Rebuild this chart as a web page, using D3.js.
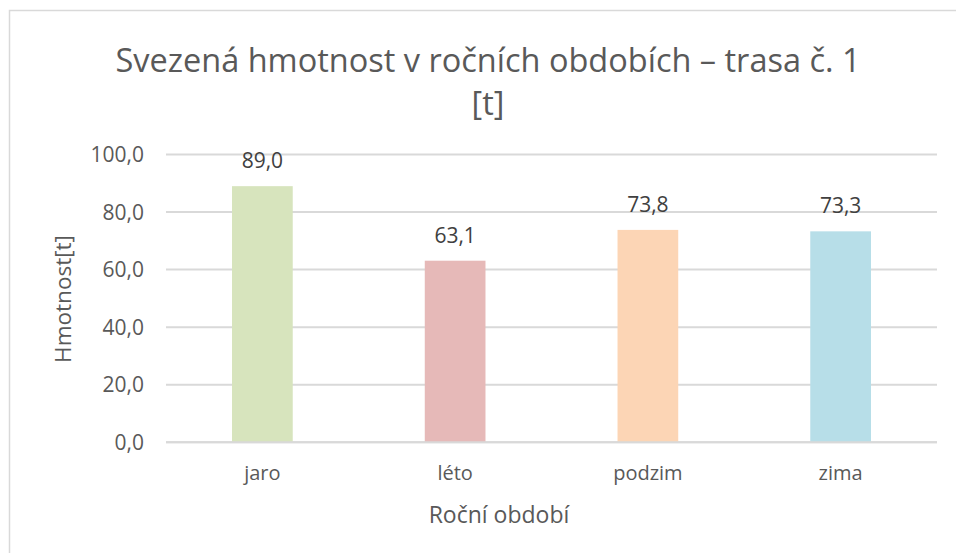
<!DOCTYPE html>
<html>
<head>
<meta charset="utf-8">
<style>
  body { margin: 0; background: #fff; font-family: "Open Sans", sans-serif; }
  .tick-label, .cat-label { fill: #595959; }
  .grid line { stroke: #d9d9d9; stroke-width: 2px; }
</style>
</head>
<body>
<script src="https://d3js.org/d3.v7.min.js"></script>
<script>
// data
var seasons = ["jaro", "léto", "podzim", "zima"];
var mass = [89.0, 63.1, 73.8, 73.3];
var barColors = ["#d7e4bd", "#e6b9b8", "#fcd5b5", "#b7dee8"];
var yTicks = [0, 20, 40, 60, 80, 100];
var titleLines = ["Svezená hmotnost v ročních obdobích – trasa č. 1", "[t]"];
var xTitle = "Roční období";
var yTitle = "Hmotnost[t]";

var width = 956, height = 553;
var plot = {left: 166, right: 937, top: 154.5, bottom: 442.3};

var svg = d3.select("body").append("svg")
    .attr("width", width)
    .attr("height", height);

// chart border (runs off the right and bottom edges)
svg.append("rect")
    .attr("x", 9.5).attr("y", 10.5)
    .attr("width", 970).attr("height", 560)
    .attr("fill", "none")
    .attr("stroke", "#d9d9d9")
    .attr("stroke-width", 1.5);

var x = d3.scaleBand()
    .domain(seasons)
    .range([plot.left, plot.right]);

var y = d3.scaleLinear()
    .domain([0, 100])
    .range([plot.bottom, plot.top]);

var fmt = function(v) { return d3.format(".1f")(v).replace(".", ","); };

// gridlines
svg.append("g").attr("class", "grid")
  .selectAll("line").data(yTicks).join("line")
    .attr("x1", plot.left).attr("x2", plot.right)
    .attr("y1", function(d) { return y(d); })
    .attr("y2", function(d) { return y(d); });

// y tick labels
svg.append("g")
  .selectAll("text").data(yTicks).join("text")
    .attr("class", "tick-label")
    .attr("x", 144)
    .attr("y", function(d) { return y(d); })
    .attr("dy", "0.36em")
    .attr("text-anchor", "end")
    .style("font-size", "21px")
    .text(fmt);

// bars
var barW = x.bandwidth() * 0.315;
svg.append("g")
  .selectAll("rect").data(mass).join("rect")
    .attr("x", function(d, i) { return x(seasons[i]) + (x.bandwidth() - barW) / 2; })
    .attr("y", function(d) { return y(d); })
    .attr("width", barW)
    .attr("height", function(d) { return y(0) - y(d); })
    .attr("fill", function(d, i) { return barColors[i]; });

// redraw the baseline over the bars
svg.append("line")
    .attr("x1", plot.left).attr("x2", plot.right)
    .attr("y1", y(0)).attr("y2", y(0))
    .attr("stroke", "#d9d9d9").attr("stroke-width", 2);

// value labels
svg.append("g")
  .selectAll("text").data(mass).join("text")
    .attr("x", function(d, i) { return x(seasons[i]) + x.bandwidth() / 2; })
    .attr("y", function(d) { return y(d) - 18; })
    .attr("text-anchor", "middle")
    .style("font-size", "21px")
    .style("fill", "#404040")
    .text(fmt);

// category labels
svg.append("g")
  .selectAll("text").data(seasons).join("text")
    .attr("class", "cat-label")
    .attr("x", function(d) { return x(d) + x.bandwidth() / 2; })
    .attr("y", 480)
    .attr("text-anchor", "middle")
    .style("font-size", "20px")
    .text(function(d) { return d; });

// axis titles
svg.append("text")
    .attr("x", 499).attr("y", 523)
    .attr("text-anchor", "middle")
    .style("font-size", "23px")
    .style("fill", "#595959")
    .text(xTitle);

svg.append("text")
    .attr("transform", "translate(71,299) rotate(-90)")
    .attr("text-anchor", "middle")
    .style("font-size", "22.5px")
    .style("fill", "#595959")
    .text(yTitle);

// chart title
svg.append("g")
  .selectAll("text").data(titleLines).join("text")
    .attr("x", 488)
    .attr("y", function(d, i) { return 72 + i * 43; })
    .attr("text-anchor", "middle")
    .style("font-size", "32.5px")
    .style("fill", "#595959")
    .text(function(d) { return d; });
</script>
</body>
</html>
